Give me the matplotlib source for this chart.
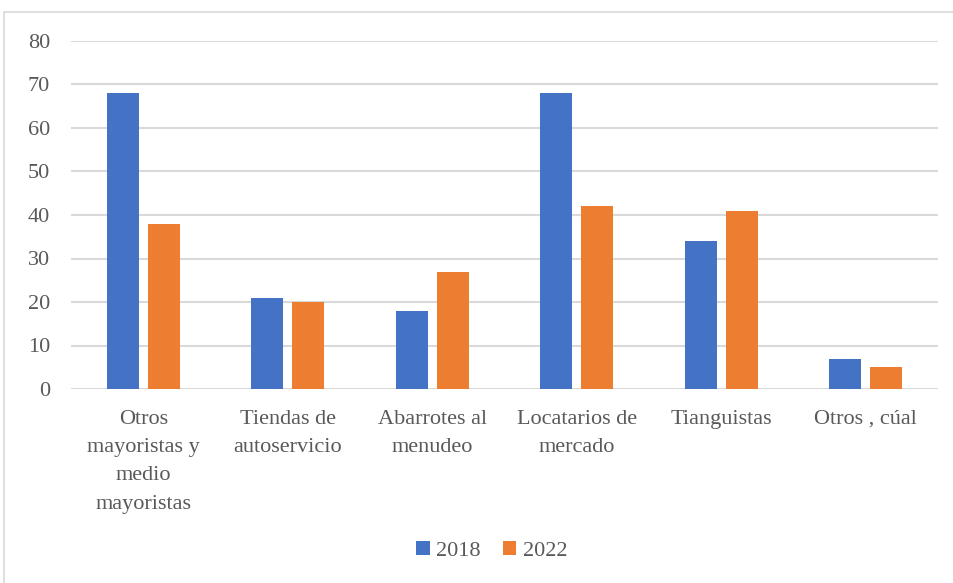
import matplotlib.pyplot as plt
import matplotlib.patches as mpatches
import numpy as np

categorias = ['Otros\nmayoristas y\nmedio\nmayoristas', 'Tiendas de\nautoservicio',
              'Abarrotes al\nmenudeo', 'Locatarios de\nmercado', 'Tianguistas', 'Otros , cúal']
v2018 = [68, 21, 18, 68, 34, 7]
v2022 = [38, 20, 27, 42, 41, 5]

plt.rcParams['font.family'] = ['Liberation Serif', 'DejaVu Serif']
gris = '#595959'

fig = plt.figure(figsize=(9.54, 5.83), dpi=100)
# marco del area del grafico
fig.patches.append(mpatches.Rectangle((4/954, -0.01), 1.0, 1 - 12/583 + 0.01,
                                      transform=fig.transFigure, fill=False,
                                      edgecolor='#d9d9d9', linewidth=1.2))
ax = fig.add_axes([71/954, 1 - 389/583, (938 - 71)/954, (389 - 41)/583])

x = np.arange(len(categorias))
w = 0.22
ax.bar(x - 0.1425, v2018, w, color='#4472C4', label='2018', zorder=3)
ax.bar(x + 0.1425, v2022, w, color='#ED7D31', label='2022', zorder=3)

ax.set_xlim(-0.5, len(categorias) - 0.5)
ax.set_ylim(0, 80)
ax.set_yticks(range(0, 81, 10))
ax.grid(axis='y', color='#d9d9d9', linewidth=1.5, zorder=0)
for s in ax.spines.values():
    s.set_visible(False)
ax.tick_params(length=0, labelsize=16, labelcolor=gris)
ax.tick_params(axis='y', pad=15)
ax.set_xticks(x)
ax.set_xticklabels(categorias, linespacing=1.66, va='top')
ax.tick_params(axis='x', pad=15)

leg = fig.legend(loc='center', bbox_to_anchor=(492/954, 1 - 551/583), ncol=2,
                 frameon=False, fontsize=16, handlelength=0.6, handleheight=0.6,
                 handletextpad=0.3, columnspacing=1.0)
for t in leg.get_texts():
    t.set_color(gris)

fig.savefig('out.png', dpi=100)
